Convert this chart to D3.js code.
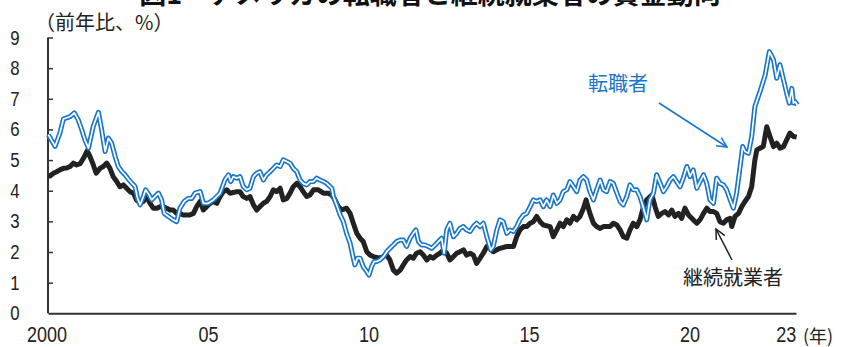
<!DOCTYPE html>
<html lang="ja">
<head>
<meta charset="utf-8">
<script src="https://cdn.jsdelivr.net/npm/d3@7"></script>
<style>
  html, body { margin: 0; padding: 0; background: #fff; }
  svg { display: block; }
  .num { font-family: "Liberation Sans", Arial, sans-serif; fill: #222; }
  .jp { font-family: "Noto Sans CJK JP", sans-serif; }
</style>
</head>
<body>
<svg id="chart" width="843" height="347"></svg>
<script>
// Wage growth, year-on-year %, [decimal year, value]
const switchers = [
  [2000.01,5.83],[2000.11,5.65],[2000.22,5.45],[2000.37,5.88],[2000.48,6.34],[2000.69,6.42],
  [2000.82,6.54],[2000.94,6.32],[2001.05,5.99],[2001.15,5.66],[2001.26,5.39],[2001.41,6.10],
  [2001.57,6.56],[2001.67,5.99],[2001.78,5.28],[2001.88,5.72],[2001.98,5.56],[2002.09,5.12],
  [2002.19,4.79],[2002.30,4.63],[2002.40,4.52],[2002.50,4.38],[2002.61,4.25],[2002.71,4.14],
  [2002.79,3.75],[2002.87,3.54],[2002.97,3.81],[2003.04,4.03],[2003.15,3.86],[2003.23,3.70],
  [2003.33,3.81],[2003.44,3.92],[2003.54,3.70],[2003.62,3.26],[2003.75,3.16],[2003.90,3.05],
  [2004.01,2.99],[2004.11,3.43],[2004.24,3.65],[2004.37,3.75],[2004.48,3.75],[2004.58,3.92],
  [2004.74,3.97],[2004.84,3.59],[2004.99,3.59],[2005.15,3.70],[2005.36,3.92],[2005.51,4.35],
  [2005.62,4.52],[2005.69,4.30],[2005.77,4.46],[2005.88,4.41],[2005.98,4.46],[2006.08,4.14],
  [2006.19,4.03],[2006.29,4.08],[2006.40,4.46],[2006.50,4.57],[2006.60,4.62],[2006.71,4.35],
  [2006.81,4.52],[2006.92,4.62],[2007.02,4.73],[2007.12,4.84],[2007.23,4.79],[2007.33,5.01],
  [2007.44,4.95],[2007.54,4.90],[2007.64,4.73],[2007.75,4.62],[2007.85,4.35],[2007.95,4.24],
  [2008.06,4.19],[2008.16,4.30],[2008.27,4.30],[2008.37,4.41],[2008.47,4.35],[2008.58,4.30],
  [2008.68,4.24],[2008.84,4.08],[2008.89,3.81],[2008.99,3.54],[2009.10,3.21],[2009.20,2.99],
  [2009.30,2.61],[2009.41,2.29],[2009.51,1.80],[2009.56,1.58],[2009.64,1.80],[2009.72,1.80],
  [2009.82,1.52],[2009.93,1.36],[2010.00,1.25],[2010.08,1.52],[2010.16,1.69],[2010.24,1.69],
  [2010.34,1.74],[2010.45,1.85],[2010.55,2.01],[2010.65,2.12],[2010.76,2.23],[2010.86,2.34],
  [2010.97,2.39],[2011.07,2.39],[2011.17,2.18],[2011.28,2.45],[2011.38,2.61],[2011.46,2.72],
  [2011.54,2.34],[2011.64,2.23],[2011.74,2.23],[2011.85,2.18],[2011.95,2.12],[2012.06,2.23],
  [2012.16,2.34],[2012.26,2.45],[2012.34,1.96],[2012.42,2.72],[2012.52,2.94],[2012.57,2.72],
  [2012.63,2.50],[2012.73,2.61],[2012.83,2.77],[2012.94,2.83],[2013.04,2.72],[2013.15,2.67],
  [2013.25,2.83],[2013.35,2.94],[2013.46,2.83],[2013.56,2.94],[2013.67,2.50],[2013.79,2.07],
  [2013.87,2.18],[2013.98,2.72],[2014.08,3.05],[2014.18,2.99],[2014.29,2.61],[2014.39,2.72],
  [2014.50,2.67],[2014.60,2.83],[2014.70,3.05],[2014.81,3.21],[2014.91,3.26],[2015.02,3.48],
  [2015.12,3.70],[2015.22,3.65],[2015.33,3.70],[2015.43,3.48],[2015.53,3.70],[2015.64,3.48],
  [2015.74,3.86],[2015.85,3.59],[2015.95,3.70],[2016.05,3.97],[2016.16,4.03],[2016.26,4.30],
  [2016.37,4.13],[2016.47,3.97],[2016.57,4.35],[2016.68,4.46],[2016.78,4.35],[2016.88,3.97],
  [2016.99,3.70],[2017.09,4.03],[2017.20,4.35],[2017.30,4.03],[2017.40,3.97],[2017.51,4.30],
  [2017.61,4.24],[2017.72,3.92],[2017.82,3.65],[2017.92,3.54],[2018.03,3.81],[2018.13,4.19],
  [2018.23,4.03],[2018.34,4.03],[2018.44,3.81],[2018.55,3.43],[2018.65,3.05],[2018.75,3.70],
  [2018.86,3.92],[2018.96,4.52],[2019.07,4.24],[2019.17,3.97],[2019.27,4.13],[2019.38,4.35],
  [2019.48,4.46],[2019.58,4.30],[2019.69,4.13],[2019.79,4.41],[2019.90,4.79],[2020.00,4.46],
  [2020.10,4.68],[2020.21,4.08],[2020.31,4.30],[2020.42,4.52],[2020.52,4.24],[2020.62,3.70],
  [2020.73,3.59],[2020.83,4.41],[2020.93,4.24],[2021.04,4.19],[2021.14,4.03],[2021.25,3.70],
  [2021.35,3.43],[2021.45,3.92],[2021.56,4.79],[2021.64,5.44],[2021.71,5.28],[2021.82,5.22],
  [2021.92,5.77],[2022.02,6.75],[2022.18,7.24],[2022.34,7.78],[2022.47,8.54],[2022.60,8.27],
  [2022.70,7.67],[2022.80,8.11],[2022.91,7.62],[2023.01,7.18],[2023.09,6.86],[2023.17,7.34],
  [2023.22,6.86],[2023.27,6.91],[2023.34,6.80]
];

const stayers = [
  [2000.01,4.50],[2000.06,4.48],[2000.17,4.57],[2000.27,4.62],[2000.37,4.68],[2000.48,4.73],
  [2000.58,4.74],[2000.69,4.79],[2000.79,4.90],[2000.89,4.84],[2001.00,4.88],[2001.10,5.05],
  [2001.22,5.30],[2001.31,5.11],[2001.41,4.85],[2001.50,4.57],[2001.62,4.73],[2001.72,4.79],
  [2001.83,4.90],[2001.93,4.73],[2002.03,4.46],[2002.14,4.30],[2002.24,4.13],[2002.35,4.19],
  [2002.45,4.08],[2002.55,3.97],[2002.66,3.92],[2002.76,3.70],[2002.87,3.59],[2002.97,3.65],
  [2003.07,3.81],[2003.18,3.59],[2003.28,3.43],[2003.39,3.43],[2003.49,3.48],[2003.59,3.48],
  [2003.70,3.43],[2003.80,3.37],[2003.90,3.37],[2004.01,3.26],[2004.11,3.26],[2004.21,3.21],
  [2004.32,3.21],[2004.42,3.21],[2004.53,3.26],[2004.63,3.48],[2004.74,3.65],[2004.84,3.37],
  [2004.94,3.48],[2005.05,3.59],[2005.15,3.65],[2005.26,3.59],[2005.36,3.81],[2005.46,3.97],
  [2005.57,4.03],[2005.67,3.92],[2005.77,3.94],[2005.88,3.97],[2005.98,3.97],[2006.08,3.81],
  [2006.19,3.75],[2006.29,3.81],[2006.40,3.54],[2006.50,3.37],[2006.60,3.48],[2006.71,3.59],
  [2006.81,3.65],[2006.92,3.81],[2007.02,4.03],[2007.12,3.97],[2007.23,4.08],[2007.33,3.70],
  [2007.44,3.75],[2007.54,3.92],[2007.64,4.13],[2007.75,4.24],[2007.85,4.13],[2007.95,3.97],
  [2008.06,3.81],[2008.16,3.86],[2008.27,4.03],[2008.42,4.03],[2008.58,3.92],[2008.73,3.92],
  [2008.84,3.86],[2008.94,3.70],[2009.04,3.48],[2009.15,3.37],[2009.30,3.43],[2009.41,3.26],
  [2009.51,2.94],[2009.62,2.61],[2009.72,2.45],[2009.82,2.34],[2009.93,2.01],[2010.03,1.90],
  [2010.13,1.85],[2010.34,1.80],[2010.45,1.85],[2010.55,1.90],[2010.65,1.74],[2010.76,1.41],
  [2010.86,1.31],[2010.97,1.41],[2011.07,1.58],[2011.17,1.74],[2011.28,1.85],[2011.38,1.80],
  [2011.48,1.96],[2011.59,2.01],[2011.69,1.90],[2011.80,1.74],[2011.90,1.85],[2012.00,1.80],
  [2012.11,1.90],[2012.21,1.96],[2012.32,2.07],[2012.42,1.96],[2012.52,1.74],[2012.63,1.85],
  [2012.73,1.96],[2012.83,2.01],[2012.94,2.07],[2013.04,1.90],[2013.15,1.96],[2013.25,1.90],
  [2013.35,1.63],[2013.46,1.80],[2013.56,1.96],[2013.67,2.18],[2013.77,2.12],[2013.87,2.01],
  [2013.98,2.07],[2014.08,2.12],[2014.29,2.18],[2014.50,2.18],[2014.60,2.50],[2014.70,2.72],
  [2014.81,2.83],[2014.91,2.83],[2015.02,2.94],[2015.12,2.99],[2015.22,3.16],[2015.33,2.99],
  [2015.43,2.88],[2015.64,2.83],[2015.74,2.50],[2015.85,2.72],[2015.95,2.94],[2016.05,2.83],
  [2016.16,3.05],[2016.26,2.94],[2016.37,3.16],[2016.47,3.05],[2016.57,3.16],[2016.68,3.43],
  [2016.76,3.70],[2016.88,3.26],[2016.99,2.94],[2017.09,2.83],[2017.20,2.77],[2017.30,2.83],
  [2017.51,2.83],[2017.61,2.94],[2017.72,2.88],[2017.82,2.72],[2017.92,2.50],[2018.03,2.45],
  [2018.13,2.72],[2018.23,2.94],[2018.34,2.83],[2018.44,3.05],[2018.55,3.48],[2018.65,3.70],
  [2018.81,3.86],[2018.91,3.48],[2019.01,3.16],[2019.12,3.26],[2019.22,3.32],[2019.33,3.21],
  [2019.43,3.37],[2019.53,3.16],[2019.64,3.26],[2019.74,3.10],[2019.84,3.43],[2019.95,3.21],
  [2020.10,3.05],[2020.21,2.94],[2020.31,3.05],[2020.42,3.26],[2020.52,3.43],[2020.62,3.32],
  [2020.73,3.32],[2020.83,3.26],[2020.93,2.99],[2021.04,2.94],[2021.14,3.05],[2021.25,3.10],
  [2021.30,2.83],[2021.40,3.16],[2021.51,3.26],[2021.61,3.48],[2021.71,3.65],[2021.82,3.81],
  [2021.92,4.13],[2022.02,5.01],[2022.08,5.33],[2022.18,5.39],[2022.28,5.44],[2022.39,6.09],
  [2022.49,5.77],[2022.60,5.44],[2022.70,5.55],[2022.80,5.39],[2022.91,5.44],[2023.01,5.66],
  [2023.11,5.88],[2023.22,5.77],[2023.32,5.75]
];

const yTicks = [0, 1, 2, 3, 4, 5, 6, 7, 8, 9];
const xTicks = [2000, 2005, 2010, 2015, 2020, 2023];
const xTickLabels = ["2000", "05", "10", "15", "20", "23"];

const titleText = "図1\u3000アメリカの転職者と継続就業者の賃金動向";
const unitText = "（前年比、%）";
const yearText = "(年)";
const switcherLabel = "転職者";
const stayerLabel = "継続就業者";

const blue = "#1775cc";
const ink = "#222";

const svg = d3.select("#chart");

const x = d3.scaleLinear().domain([2000, 2023.3]).range([48, 796]);
const y = d3.scaleLinear().domain([0, 9]).range([313.3, 37.5]);

// title (runs off the top edge)
svg.append("text")
  .attr("class", "jp")
  .attr("x", 430).attr("y", 4)
  .attr("text-anchor", "middle")
  .attr("font-size", 27).attr("font-weight", "bold")
  .attr("fill", "#111")
  .text(titleText);

// unit label
svg.append("text")
  .attr("class", "jp")
  .attr("x", 35).attr("y", 30)
  .attr("font-size", 20)
  .attr("fill", ink)
  .text(unitText);

// y axis: inward ticks, labels drawn separately in a condensed face
const yAxis = d3.axisRight(y).tickValues(yTicks.filter(d => d > 0)).tickSize(5).tickFormat("");
const yg = svg.append("g").attr("transform", "translate(48,0)").call(yAxis);
yg.select(".domain").remove();
yg.selectAll(".tick line").attr("stroke", "#333").attr("stroke-width", 1.5);
svg.append("line")
  .attr("x1", 48).attr("x2", 48).attr("y1", y(9)).attr("y2", y(0))
  .attr("stroke", "#333").attr("stroke-width", 2);

svg.append("g").selectAll("text").data(yTicks).join("text")
  .attr("class", "num")
  .attr("transform", d => `translate(15,${y(d)}) scale(0.86,1)`)
  .attr("dy", "0.36em")
  .attr("text-anchor", "middle")
  .attr("font-size", 19.5)
  .text(d => d);

// x axis baseline
const xAxis = d3.axisBottom(x).tickValues(xTicks).tickSize(0).tickFormat("");
const xg = svg.append("g").attr("transform", `translate(0,${y(0)})`).call(xAxis);
xg.select(".domain").attr("stroke", "#333").attr("stroke-width", 2);

svg.append("g").selectAll("text").data(xTicks).join("text")
  .attr("class", "num")
  .attr("transform", (d, i) => `translate(${x(d) - (i === 0 ? 1 : 0)},342) scale(0.8,1)`)
  .attr("text-anchor", "middle")
  .attr("font-size", 22.5)
  .text((d, i) => xTickLabels[i]);

svg.append("text")
  .attr("class", "jp")
  .attr("x", 803).attr("y", 343)
  .attr("font-size", 18)
  .attr("fill", ink)
  .text(yearText);

// series
const line = d3.line().x(d => x(d[0])).y(d => y(d[1]));

svg.append("path")
  .datum(stayers)
  .attr("d", line)
  .attr("fill", "none")
  .attr("stroke", ink)
  .attr("stroke-width", 5)
  .attr("stroke-linejoin", "round");

// double-stroke line: blue outline with a white core
svg.append("path")
  .datum(switchers)
  .attr("d", line)
  .attr("fill", "none")
  .attr("stroke", blue)
  .attr("stroke-width", 5)
  .attr("stroke-linejoin", "round");
svg.append("path")
  .datum(switchers)
  .attr("d", line)
  .attr("fill", "none")
  .attr("stroke", "#fff")
  .attr("stroke-width", 1.7)
  .attr("stroke-linejoin", "round");

// annotations
function arrow(x1, y1, x2, y2, color) {
  const a = Math.atan2(y2 - y1, x2 - x1);
  const len = 11, spread = 0.45;
  const p1 = [x2 - len * Math.cos(a - spread), y2 - len * Math.sin(a - spread)];
  const p2 = [x2 - len * Math.cos(a + spread), y2 - len * Math.sin(a + spread)];
  const g = svg.append("g").attr("stroke", color).attr("stroke-width", 1.5).attr("fill", "none");
  g.append("line").attr("x1", x1).attr("y1", y1).attr("x2", x2).attr("y2", y2);
  g.append("path").attr("d", `M${p1[0]},${p1[1]}L${x2},${y2}L${p2[0]},${p2[1]}`);
}

svg.append("text")
  .attr("class", "jp")
  .attr("x", 588).attr("y", 91)
  .attr("font-size", 20)
  .attr("fill", blue)
  .text(switcherLabel);
arrow(659, 103, 727, 147, blue);

svg.append("text")
  .attr("class", "jp")
  .attr("x", 683).attr("y", 285)
  .attr("font-size", 20)
  .attr("fill", ink)
  .text(stayerLabel);
arrow(732, 260, 716, 229, ink);
</script>
</body>
</html>
